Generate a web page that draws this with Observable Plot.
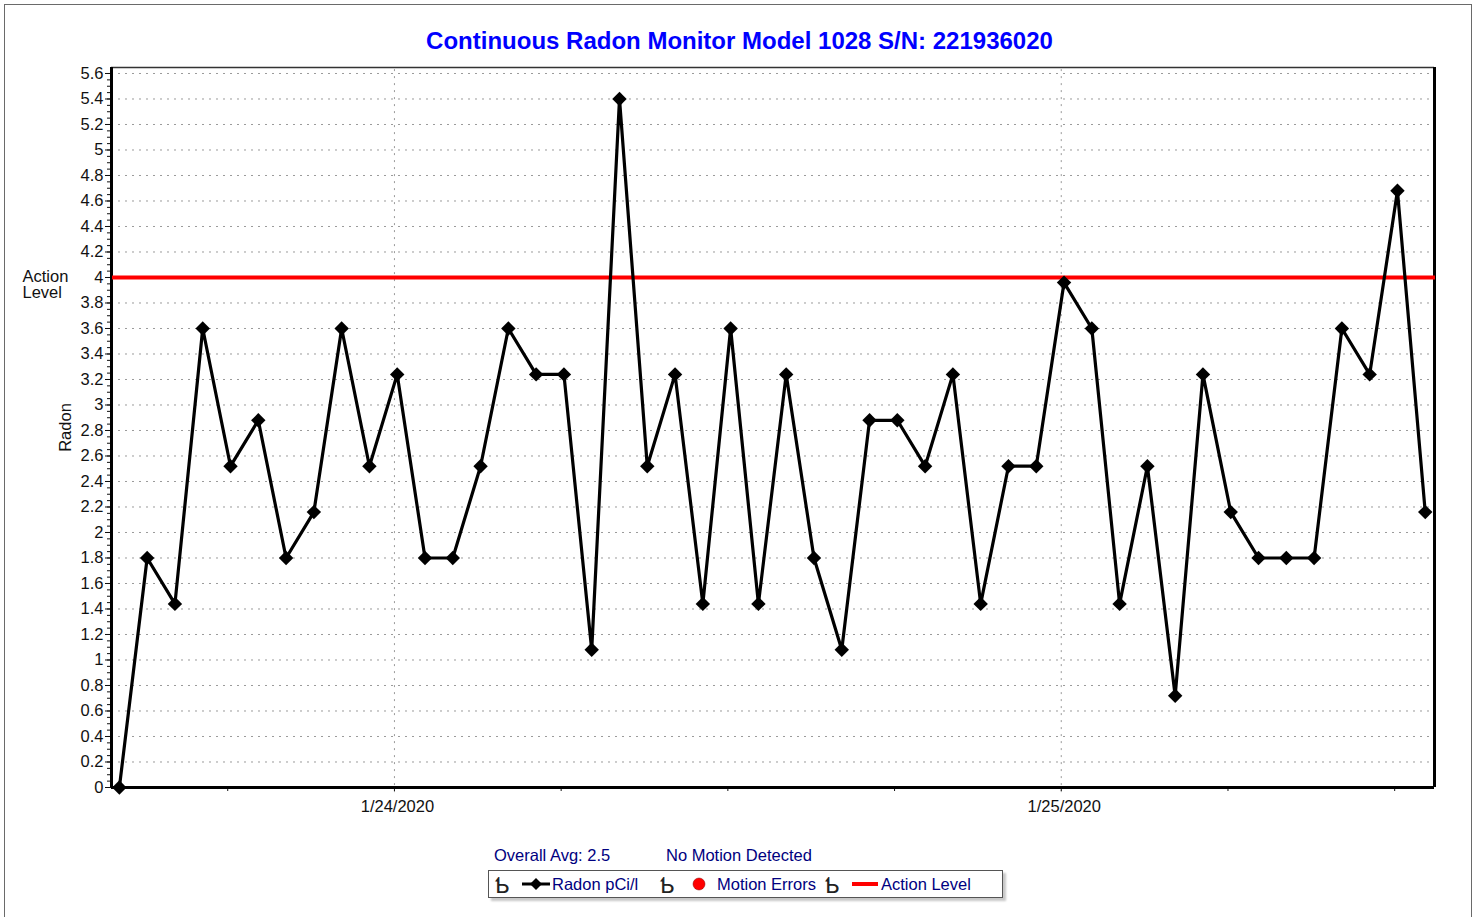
<!DOCTYPE html>
<html>
<head>
<meta charset="utf-8">
<script src="https://cdn.jsdelivr.net/npm/d3@7"></script>
<script src="https://cdn.jsdelivr.net/npm/@observablehq/plot@0.6"></script>
<style>
  html, body { margin: 0; padding: 0; background: #fff; overflow: hidden; }
  body { width: 1479px; height: 917px; position: relative; font-family: "Liberation Sans", Arial, sans-serif; }
  #border { position: absolute; left: 4px; top: 4px; width: 1468px; height: 1000px; border: 1.5px solid #6a6a6a; box-sizing: border-box; }
  #title { position: absolute; left: 0; width: 1479px; top: 29px; text-align: center; font-weight: bold; font-size: 24px; line-height: 24px; color: #0000ff; white-space: nowrap; }
  #chart { position: absolute; left: 0; top: 50px; }
  .note { position: absolute; font-size: 16.5px; line-height: 16px; color: #000080; white-space: nowrap; }
  #legend { position: absolute; left: 488px; top: 870px; width: 515px; height: 28px; border: 1px solid #555; box-sizing: border-box; box-shadow: 3px 3px 2px #c8c8c8; background: #fff; }
  .lg { position: absolute; top: 5px; font-size: 16.5px; line-height: 16px; color: #000080; white-space: nowrap; }
  .gl { position: absolute; top: 4px; font-size: 22px; line-height: 22px; color: #222; font-family: "DejaVu Sans", sans-serif; }
  .ic { position: absolute; top: 5px; }
</style>
</head>
<body>
<div id="border"></div>
<div id="title">Continuous Radon Monitor Model 1028 S/N: 221936020</div>
<div id="chart"></div>
<div class="note" style="left:494px; top:847px;">Overall Avg: 2.5</div>
<div class="note" style="left:666px; top:847px;">No Motion Detected</div>
<div id="legend">
  <span class="gl" style="left:6px;">Ƅ</span>
  <svg class="ic" style="left:33px;" width="28" height="16"><line x1="0" y1="8" x2="28" y2="8" stroke="#000" stroke-width="3"/><path d="M14,2 L20,8 L14,14 L8,8 Z" fill="#000"/></svg>
  <span class="lg" style="left:63px;">Radon pCi/l</span>
  <span class="gl" style="left:171px;">Ƅ</span>
  <svg class="ic" style="left:202px;" width="16" height="16"><circle cx="8" cy="8" r="6" fill="#ff0000" stroke="#800" stroke-width="0.5"/></svg>
  <span class="lg" style="left:228px;">Motion Errors</span>
  <span class="gl" style="left:336px;">Ƅ</span>
  <svg class="ic" style="left:363px;" width="26" height="16"><line x1="0" y1="8" x2="26" y2="8" stroke="#ff0000" stroke-width="4"/></svg>
  <span class="lg" style="left:392px;">Action Level</span>
</div>
<script>
// ---- data ----
const startTime = new Date(2020, 0, 23, 14, 6);
const radon = [0, 1.8, 1.44, 3.6, 2.52, 2.88, 1.8, 2.16, 3.6, 2.52,
  3.24, 1.8, 1.8, 2.52, 3.6, 3.24, 3.24, 1.08, 5.4, 2.52,
  3.24, 1.44, 3.6, 1.44, 3.24, 1.8, 1.08, 2.88, 2.88, 2.52,
  3.24, 1.44, 2.52, 2.52, 3.96, 3.6, 1.44, 2.52, 0.72, 3.24,
  2.16, 1.8, 1.8, 1.8, 3.6, 3.24, 4.68, 2.16];
const actionLevel = 4;
const dateTicks = [new Date(2020, 0, 24), new Date(2020, 0, 25)];
const yMax = 5.6;

const data = radon.map((v, i) => ({time: d3.timeHour.offset(startTime, i), value: v}));
const xDomain = [new Date(2020, 0, 23, 13, 49), new Date(2020, 0, 25, 13, 26)];
const yDomain = [0, 5.647];
const yMajor = d3.range(0, 29).map(i => +(i * 0.2).toFixed(2));
const yMinor = d3.range(0, 113).map(i => +(i * 0.05).toFixed(2));
const xMinor = d3.timeHour.every(6).range(xDomain[0], xDomain[1]);
const fmtY = d => String(+d.toFixed(2));
const grid = {stroke: "#9a9a9a", strokeOpacity: 1, strokeWidth: 1, strokeDasharray: "2,5"};

const chart = Plot.plot({
  width: 1479,
  height: 770,
  marginLeft: 111,
  marginRight: 45,
  marginTop: 17,
  marginBottom: 33,
  style: {fontFamily: "'Liberation Sans', Arial, sans-serif", fontSize: "16.5px", color: "#111", background: "transparent"},
  x: {type: "time", domain: xDomain},
  y: {domain: yDomain},
  marks: [
    Plot.ruleY(yMajor.filter(d => d > 0), {y: d => d, ...grid}),
    Plot.ruleX(dateTicks, {x: d => d, y1: -0.04, y2: yDomain[1], ...grid}),
    Plot.axisY(yMinor, {tickSize: 4, tickFormat: () => "", label: null, stroke: "#111"}),
    Plot.axisY(yMajor, {tickSize: 6, tickPadding: 2, tickFormat: fmtY, label: null, fontSize: 16.5, stroke: "#111", fill: "#111"}),
    Plot.axisX(xMinor, {tickSize: 4, tickFormat: () => "", label: null, stroke: "#111"}),
    Plot.axisX(dateTicks, {tickSize: 0, tickPadding: 13, dx: 3, tickFormat: d3.timeFormat("%-m/%-d/%Y"), label: null, fontSize: 16.5, fill: "#111"}),
    Plot.ruleY([yDomain[1]], {stroke: "#333", strokeWidth: 1.5}),
    Plot.ruleX([xDomain[0], xDomain[1]], {stroke: "#000", strokeWidth: 3}),
    Plot.ruleY([0], {stroke: "#000", strokeWidth: 3}),
    Plot.ruleY([actionLevel], {stroke: "#ff0000", strokeWidth: 4, dx: 1}),
    Plot.line(data, {x: "time", y: "value", stroke: "#000", strokeWidth: 3.2, strokeLinejoin: "miter"}),
    Plot.dot(data, {x: "time", y: "value", symbol: "diamond2", r: 6.5, fill: "#000", stroke: null}),
    Plot.text(["Action\nLevel"], {y: [actionLevel], frameAnchor: "left", dx: -89, dy: 7, textAnchor: "start", lineAnchor: "middle", lineHeight: 1.0, fontSize: 16.5, fill: "#111"}),
    Plot.text(["Radon"], {frameAnchor: "left", dx: -46, rotate: -90, textAnchor: "middle", fontSize: 16.5, fill: "#111"})
  ]
});
document.getElementById("chart").appendChild(chart);
</script>
</body>
</html>
